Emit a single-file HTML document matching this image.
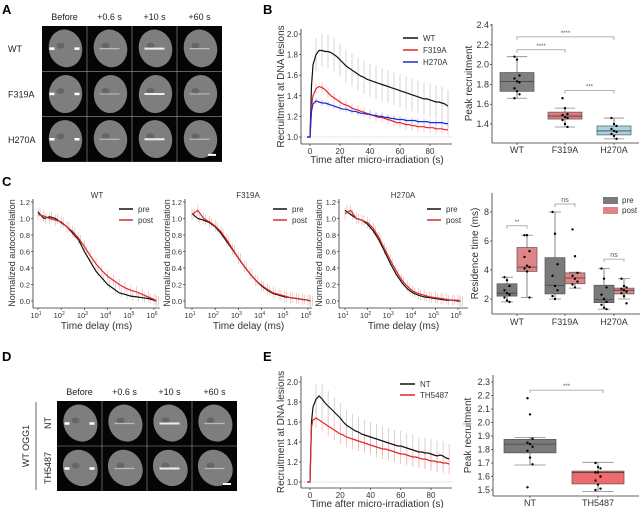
<!DOCTYPE html>
<html><head><meta charset="utf-8"><style>
body{margin:0;background:#fff}
svg{display:block;font-family:"Liberation Sans","DejaVu Sans",sans-serif}
</style></head><body>
<svg id="fig" width="642" height="508" viewBox="0 0 642 508" xmlns="http://www.w3.org/2000/svg">
<rect width="642" height="508" fill="#fff"/>
</svg>
<script>
// ---------- data ----------
const recTimes = [-2,-1,0,1,2,4,6,8,10,12,14,16,18,20,22,24,26,28,30,32,34,36,38,40,42,44,46,48,50,52,54,56,58,60,62,64,66,68,70,72,74,76,78,80,82,84,86,88,90,92];
const recWT = [1.0,1.0,1.0,1.5,1.7, 1.8,1.84,1.84,1.83,1.83,1.82,1.8,1.78,1.75,1.72, 1.69,1.67,1.65,1.63,1.61,1.59,1.58,1.56,1.55,1.54, 1.53,1.52,1.51,1.5,1.49,1.48,1.47,1.46,1.45,1.44, 1.43,1.42,1.41,1.4,1.39,1.38,1.37,1.37,1.36,1.35, 1.34,1.34,1.33,1.32,1.30];
const recF319A = [1.0,1.0,1.0,1.3,1.4, 1.47,1.49,1.48,1.46,1.43,1.40,1.38,1.36,1.34,1.32, 1.31,1.30,1.28,1.27,1.26,1.25,1.24,1.23,1.22,1.21, 1.20,1.19,1.19,1.18,1.17,1.16,1.15,1.14,1.14,1.13, 1.12,1.12,1.11,1.11,1.10,1.10,1.10,1.09,1.09,1.09, 1.08,1.08,1.08,1.07,1.07];
const recH270A = [1.0,1.0,1.0,1.25,1.32, 1.35,1.34,1.33,1.33,1.32,1.31,1.30,1.29,1.28,1.27, 1.27,1.26,1.25,1.25,1.24,1.23,1.23,1.22,1.22,1.21, 1.21,1.20,1.20,1.19,1.19,1.18,1.18,1.17,1.17,1.17, 1.16,1.16,1.16,1.16,1.15,1.15,1.15,1.15,1.14,1.14, 1.14,1.14,1.14,1.13,1.13];
const recNT = [1,1,1,1.6,1.75, 1.83,1.86,1.83,1.79,1.76,1.73,1.70,1.67,1.64,1.60, 1.57,1.55,1.53,1.51,1.50,1.48,1.47,1.46,1.45,1.44, 1.43,1.42,1.41,1.40,1.39,1.38,1.37,1.36,1.36,1.35, 1.34,1.33,1.32,1.31,1.30,1.30,1.29,1.29,1.28,1.27, 1.26,1.27,1.26,1.24,1.23];
const recTH = [1,1,1,1.55,1.62, 1.64,1.62,1.60,1.58,1.56,1.54,1.52,1.50,1.48,1.47, 1.45,1.44,1.43,1.42,1.41,1.40,1.39,1.38,1.37,1.36, 1.35,1.34,1.33,1.33,1.32,1.31,1.30,1.29,1.28,1.28, 1.27,1.26,1.25,1.25,1.24,1.23,1.23,1.22,1.21,1.21, 1.20,1.20,1.19,1.19,1.18];
const recErrB = [0.16,0.05,0.03];
const recErrE = [0.15,0.1];
const recXTicks = [0,20,40,60,80];
const recYTicksB = [1.0,1.2,1.4,1.6,1.8,2.0];

const acLogT = [1,1.25,1.5,1.75,2,2.25,2.5,2.75,3,3.25,3.5,3.75,4,4.25,4.5,4.75,5,5.25,5.5,5.75,6,6.1];
const acWTpre = [1.08,1.0,1.02,1.0,0.95,0.9,0.82,0.74,0.6,0.48,0.36,0.28,0.2,0.15,0.1,0.08,0.06,0.05,0.04,0.03,0.01,0.0];
const acWTpost = [1.05,1.03,1.0,0.98,0.96,0.9,0.84,0.76,0.66,0.55,0.45,0.37,0.3,0.25,0.2,0.16,0.13,0.11,0.08,0.05,0.02,0.0];
const acF319Apre = [1.06,1.0,0.98,0.95,0.9,0.82,0.72,0.62,0.52,0.42,0.33,0.25,0.18,0.13,0.09,0.07,0.05,0.04,0.03,0.02,0.01,0.0];
const acF319Apost = [1.05,1.1,1.0,0.96,0.91,0.84,0.74,0.63,0.52,0.42,0.33,0.25,0.19,0.14,0.1,0.08,0.06,0.04,0.03,0.02,0.01,0.0];
const acH270Apre = [1.1,1.05,1.0,0.98,0.93,0.85,0.74,0.6,0.46,0.33,0.23,0.15,0.1,0.07,0.05,0.04,0.03,0.02,0.01,0.01,0.0,0.0];
const acH270Apost = [1.06,1.1,1.0,0.98,0.95,0.88,0.77,0.63,0.5,0.37,0.26,0.18,0.12,0.09,0.07,0.05,0.04,0.03,0.02,0.01,0.01,0.0];
const acYTicks = [0.0,0.2,0.4,0.6,0.8,1.0,1.2];
const acXTickExp = [1,2,3,4,5,6];

const peakCats = ['WT','F319A','H270A'];
const peakStats = [[1.66,1.73,1.83,1.92,2.08],[1.37,1.45,1.48,1.52,1.56],[1.25,1.29,1.33,1.38,1.46]];
const peakPts = [[2.08,2.05,1.89,1.86,1.83,1.82,1.76,1.73,1.70,1.66],[1.66,1.56,1.50,1.49,1.47,1.46,1.44,1.40,1.37],[1.46,1.40,1.38,1.35,1.33,1.32,1.30,1.28,1.25]];
const peakYTicks = [1.4,1.6,1.8,2.0,2.2,2.4];

const resCats = ['WT','F319A','H270A'];
const resPre = [[1.8,2.2,2.4,3.05,3.5],[2.0,2.35,2.95,4.85,8.0],[1.3,1.75,1.95,2.95,4.1]];
const resPost = [[2.1,3.9,4.2,5.55,6.4],[2.75,3.05,3.45,3.8,3.85],[2.0,2.35,2.6,2.75,3.4]];
const resPrePts = [[3.5,3.3,2.9,2.6,2.4,2.3,2.1,1.9,1.8],[8.0,6.5,4.4,3.6,2.9,2.6,2.2,2.0],[4.1,3.4,2.8,2.3,2.0,1.8,1.6,1.4,1.3]];
const resPostPts = [[6.4,6.4,5.3,4.9,4.3,4.2,4.1,3.9,2.1],[6.8,4.95,3.8,3.6,3.4,3.2,3.0,2.8],[3.4,2.9,2.8,2.7,2.6,2.5,2.4,2.2,1.7]];
const resYTicks = [2,4,6,8];

const peakECats = ['NT','TH5487'];
const peakEStats = [[1.685,1.775,1.84,1.875,1.89],[1.49,1.545,1.63,1.64,1.705]];
const peakEPts = [[2.18,2.06,1.88,1.85,1.84,1.82,1.79,1.74,1.69,1.52],[1.70,1.67,1.66,1.63,1.63,1.60,1.57,1.54,1.51,1.50]];
const peakEYTicks = [1.5,1.6,1.7,1.8,1.9,2.0,2.1,2.2,2.3];

// ---------- helpers ----------
const svg = document.getElementById('fig');
const NS = 'http://www.w3.org/2000/svg';
function el(tag, attrs, name, parent){
  const e = document.createElementNS(NS, tag);
  for (const k in attrs) e.setAttribute(k, attrs[k]);
  
  
  (parent||svg).appendChild(e);
  return e;
}
function txt(x,y,s,size,name,opt){
  opt=opt||{};
  const t = el('text',{x:x,y:y,'font-size':size,fill:opt.fill||'#333','text-anchor':opt.anchor||'middle','font-weight':opt.weight||'normal',transform:opt.rot?`rotate(-90 ${x} ${y})`:''},name);
  t.textContent = s; return t;
}
function line(x1,y1,x2,y2,stroke,w,name,extra){
  const a={x1:x1,y1:y1,x2:x2,y2:y2,stroke:stroke,'stroke-width':w};
  if(extra) Object.assign(a,extra);
  return el('line',a,name);
}
function poly(xs,ys,sx,sy,stroke,w,name){
  let d='';
  for(let i=0;i<xs.length;i++) d+=(i?'L':'M')+sx(xs[i]).toFixed(1)+' '+sy(ys[i]).toFixed(1);
  return el('path',{d:d,fill:'none',stroke:stroke,'stroke-width':w},name);
}

// ---------- panel letters ----------
txt(2,14,'A',13,'panel-label-a',{anchor:'start',weight:'bold',fill:'#000'});
txt(263,14,'B',13,'panel-label-b',{anchor:'start',weight:'bold',fill:'#000'});
txt(2,186,'C',13,'panel-label-c',{anchor:'start',weight:'bold',fill:'#000'});
txt(2,361,'D',13,'panel-label-d',{anchor:'start',weight:'bold',fill:'#000'});
txt(263,361,'E',13,'panel-label-e',{anchor:'start',weight:'bold',fill:'#000'});

// ---------- micrographs ----------
function grid(x0,y0,cw,rh,rows,cols,heads,name,tilt){
  el('rect',{x:x0,y:y0,width:cw*cols,height:rh*rows,fill:'#050505'},name+'-background');
  for(let r=0;r<rows;r++)for(let c=0;c<cols;c++){
    const cx=x0+c*cw+cw/2, cy=y0+r*rh+rh/2;
    el('ellipse',{cx:cx+1,cy:cy,rx:cw*0.37,ry:rh*0.42,fill:'#7e7e7e',transform:`rotate(${tilt[r]} ${cx} ${cy})`},name+'-nucleus');
    el('ellipse',{cx:cx-4,cy:cy-3,rx:4,ry:3,fill:'#666'},name+'-nucleolus');
    if(c===0){
      line(cx-15,cy,cx-10,cy,'#fff',2.5,name+'-arrow-left');
      line(cx+10,cy,cx+15,cy,'#fff',2.5,name+'-arrow-right');
    } else {
      line(cx-10,cy,cx+10,cy,c===2?'#eee':'#bbb',c===2?2:1.2,name+'-damage-stripe');
    }
  }
  for(let c=1;c<cols;c++) line(x0+c*cw,y0,x0+c*cw,y0+rh*rows,'#999',0.6,name+'-divider');
  for(let r=1;r<rows;r++) line(x0,y0+r*rh,x0+cw*cols,y0+r*rh,'#999',0.6,name+'-divider');
  line(x0+cw*cols-14,y0+rh*rows-7,x0+cw*cols-6,y0+rh*rows-7,'#fff',2,name+'-scale-bar');
  heads.forEach((h,i)=>txt(x0+i*cw+cw/2,y0-6,h,9,name+'-column-header',{fill:'#222'}));
}
grid(42,26,45,45.3,3,4,['Before','+0.6 s','+10 s','+60 s'],'panel-a-image',[-15,5,-10]);
['WT','F319A','H270A'].forEach((s,i)=>txt(8,52+i*45.5,s,9,'panel-a-row-label',{anchor:'start',fill:'#222'}));
grid(57,401,45,45,2,4,['Before','+0.6 s','+10 s','+60 s'],'panel-d-image',[-25,-35]);
txt(51,423,'NT',9,'panel-d-row-label',{rot:true,fill:'#222'});
txt(51,468,'TH5487',9,'panel-d-row-label',{rot:true,fill:'#222'});
txt(29,446,'WT OGG1',9,'panel-d-group-label',{rot:true,fill:'#222'});
line(36,402,36,490,'#444',0.8,'panel-d-group-bracket');

// ---------- recruitment line charts ----------
function recChart(cfg){
  const sx=t=>cfg.x0+t*cfg.kx, sy=v=>cfg.y1-(v-1)*cfg.ky;
  const n=cfg.name;
  line(cfg.axL,sy(1),cfg.axR,sy(1),'#aaa',0.6,n+'-baseline',{'stroke-dasharray':'1.5,1.5'});
  cfg.series.forEach((s,k)=>{
    for(let i=5;i<recTimes.length;i+=2){
      line(sx(recTimes[i]),sy(s.v[i]-s.err),sx(recTimes[i]),sy(s.v[i]+s.err),s.ec,0.6,n+'-error-bar');
    }
  });
  cfg.series.forEach(s=>poly(recTimes,s.v,sx,sy,s.c,1.2,n+'-line-'+s.label.toLowerCase()));
  line(cfg.axL,cfg.axTop,cfg.axL,cfg.axB,'#333',0.8,n+'-y-axis');
  line(cfg.axL,cfg.axB,cfg.axR,cfg.axB,'#333',0.8,n+'-x-axis');
  cfg.yt.forEach(v=>{line(cfg.axL-2,sy(v),cfg.axL,sy(v),'#333',0.7,n+'-y-tick');txt(cfg.axL-3,sy(v)+3,v.toFixed(1),8,n+'-y-tick-label',{anchor:'end'});});
  recXTicks.forEach(v=>{line(sx(v),cfg.axB,sx(v),cfg.axB+2,'#333',0.7,n+'-x-tick');txt(sx(v),cfg.axB+10,String(v),8,n+'-x-tick-label');});
  txt(377,cfg.axB+19,'Time after micro-irradiation (s)',10,n+'-x-axis-title');
  txt(284,(cfg.axTop+cfg.axB)/2,'Recruitment at DNA lesions',10,n+'-y-axis-title',{rot:true});
  cfg.series.forEach((s,i)=>{
    line(cfg.lx,cfg.ly+i*cfg.ld,cfg.lx+15,cfg.ly+i*cfg.ld,s.c,1.5,n+'-legend-swatch');
    txt(cfg.lx+20,cfg.ly+i*cfg.ld+3,s.label,8,n+'-legend-entry',{anchor:'start'});
  });
}
recChart({name:'panel-b',x0:310,kx:1.5,y1:137,ky:103,axL:301,axR:452,axTop:29,axB:144,yt:recYTicksB,lx:403,ly:38,ld:12,
  series:[{label:'WT',v:recWT,c:'#111',ec:'#bbb',err:recErrB[0]},{label:'F319A',v:recF319A,c:'#e0282a',ec:'#f3a0a0',err:recErrB[1]},{label:'H270A',v:recH270A,c:'#1a2ad0',ec:'#9aa4ee',err:recErrB[2]}]});
recChart({name:'panel-e',x0:310,kx:1.5125,y1:482,ky:100,axL:301,axR:452,axTop:376,axB:488,yt:recYTicksB,lx:400,ly:384,ld:11,
  series:[{label:'NT',v:recNT,c:'#111',ec:'#bbb',err:recErrE[0]},{label:'TH5487',v:recTH,c:'#e0282a',ec:'#f3a0a0',err:recErrE[1]}]});

// ---------- autocorrelation charts ----------
function acChart(cfg){
  const sx=l=>cfg.x10+(l-1)*cfg.kd, sy=v=>301-v*82.5;
  const n=cfg.name;
  for(let i=0;i<acLogT.length;i++){
    line(sx(acLogT[i]),sy(cfg.post[i]-0.07),sx(acLogT[i]),sy(cfg.post[i]+0.07),'#f4a6a6',0.6,n+'-error-bar');
    line(sx(acLogT[i])+2,sy(cfg.pre[i]-0.06),sx(acLogT[i])+2,sy(cfg.pre[i]+0.06),'#bbb',0.6,n+'-error-bar');
  }
  poly(acLogT,cfg.pre,sx,sy,'#111',1.2,n+'-line-pre');
  poly(acLogT,cfg.post,sx,sy,'#e0282a',1.2,n+'-line-post');
  line(cfg.axL,199,cfg.axL,308,'#333',0.8,n+'-y-axis');
  line(cfg.axL,308,cfg.axR,308,'#333',0.8,n+'-x-axis');
  acYTicks.forEach(v=>{line(cfg.axL-2,sy(v),cfg.axL,sy(v),'#333',0.7,n+'-y-tick');txt(cfg.axL-3,sy(v)+3,v.toFixed(1),7.5,n+'-y-tick-label',{anchor:'end'});});
  acXTickExp.forEach(e=>{
    line(sx(e),308,sx(e),310,'#333',0.7,n+'-x-tick');
    const t=txt(sx(e)-2,318,'10',7.5,n+'-x-tick-label');
    const s=document.createElementNS(NS,'tspan'); s.setAttribute('dy','-3'); s.setAttribute('font-size','5'); s.textContent=String(e); t.appendChild(s);
  });
  txt((cfg.axL+cfg.axR)/2,329,'Time delay (ms)',10,n+'-x-axis-title');
  txt(cfg.ylx,253,'Normalized autocorrelation',9,n+'-y-axis-title',{rot:true});
  txt(cfg.tx,198,cfg.title,8,n+'-title');
  line(cfg.lx,209,cfg.lx+14,209,'#111',1.5,n+'-legend-swatch-pre');
  txt(cfg.lx+19,212,'pre',8,n+'-legend-entry',{anchor:'start'});
  line(cfg.lx,220,cfg.lx+14,220,'#e0282a',1.5,n+'-legend-swatch-post');
  txt(cfg.lx+19,223,'post',8,n+'-legend-entry',{anchor:'start'});
}
acChart({name:'panel-c-wt',title:'WT',pre:acWTpre,post:acWTpost,x10:38,kd:23.2,axL:33,axR:160,ylx:15,tx:97,lx:119});
acChart({name:'panel-c-f319a',title:'F319A',pre:acF319Apre,post:acF319Apost,x10:192,kd:23.2,axL:185,axR:312,ylx:170,tx:248,lx:273});
acChart({name:'panel-c-h270a',title:'H270A',pre:acH270Apre,post:acH270Apost,x10:345,kd:22.6,axL:339,axR:468,ylx:322,tx:403,lx:427});

// ---------- box plots ----------
function box(cx,w,st,sy,fill,n){
  line(cx,sy(st[0]),cx,sy(st[4]),'#666',0.8,n+'-whisker');
  line(cx-w*0.3,sy(st[0]),cx+w*0.3,sy(st[0]),'#888',0.8,n+'-whisker-cap');
  line(cx-w*0.3,sy(st[4]),cx+w*0.3,sy(st[4]),'#888',0.8,n+'-whisker-cap');
  el('rect',{x:cx-w/2,y:sy(st[3]),width:w,height:sy(st[1])-sy(st[3]),fill:fill,stroke:'#555','stroke-width':0.7},n+'-box');
  line(cx-w/2,sy(st[2]),cx+w/2,sy(st[2]),'#444',0.8,n+'-median');
}
function pts(cx,vals,sy,n){
  vals.forEach((v,i)=>el('circle',{cx:cx+((i%3)-1)*2.5,cy:sy(v),r:1.2,fill:'#000'},n+'-point'));
}
function bracket(x1,x2,y,label,n){
  el('path',{d:`M${x1} ${y+3}V${y}H${x2}V${y+3}`,fill:'none',stroke:'#999','stroke-width':0.8},n+'-significance-bracket');
  txt((x1+x2)/2,y-2,label,label==='ns'?7:6,n+'-significance-label',{fill:'#555'});
}
function boxAxes(n,axL,axR,axTop,axB,ticks,sy,dec,ylab,ylx){
  line(axL,axTop,axL,axB,'#333',0.8,n+'-y-axis');
  line(axL,axB,axR,axB,'#333',0.8,n+'-x-axis');
  ticks.forEach(v=>{line(axL-2,sy(v),axL,sy(v),'#333',0.7,n+'-y-tick');txt(axL-3,sy(v)+3,v.toFixed(dec),9,n+'-y-tick-label',{anchor:'end'});});
  txt(ylx,(axTop+axB)/2,ylab,10,n+'-y-axis-title',{rot:true});
}
(function(){
  const n='panel-b-box'; const sy=v=>124-(v-1.4)*99; const xs=[517,565,614]; const fills=['#808080','#e07a7c','#a8d4e0'];
  boxAxes(n,492,639,24,143,peakYTicks,sy,1,'Peak recruitment',472);
  peakCats.forEach((c,i)=>{box(xs[i],34,peakStats[i],sy,fills[i],n+'-'+c.toLowerCase());pts(xs[i],peakPts[i],sy,n);
    line(xs[i],143,xs[i],145,'#333',0.7,n+'-x-tick');txt(xs[i],153,c,9,n+'-x-tick-label');});
  bracket(517,565,sy(2.15),'****',n); bracket(517,614,sy(2.28),'****',n); bracket(565,614,sy(1.74),'***',n);
})();
(function(){
  const n='panel-c-box'; const sy=v=>299-(v-2)*14.5; const xs=[517,565,614];
  boxAxes(n,492,640,193,314,resYTicks,sy,0,'Residence time (ms)',478);
  resCats.forEach((c,i)=>{
    box(xs[i]-10,20,resPre[i],sy,'#7a7a7a',n+'-pre-'+c.toLowerCase());
    box(xs[i]+10,20,resPost[i],sy,'#e08587',n+'-post-'+c.toLowerCase());
    pts(xs[i]-10,resPrePts[i],sy,n); pts(xs[i]+10,resPostPts[i],sy,n);
    line(xs[i],314,xs[i],316,'#333',0.7,n+'-x-tick');txt(xs[i],325,c,9,n+'-x-tick-label');
  });
  bracket(507,527,sy(7.05),'**',n); bracket(555,575,sy(8.55),'ns',n); bracket(604,624,sy(4.75),'ns',n);
  el('rect',{x:603,y:197,width:15,height:7,fill:'#7a7a7a'},n+'-legend-swatch-pre');
  txt(622,203,'pre',8,n+'-legend-entry',{anchor:'start'});
  el('rect',{x:603,y:207,width:15,height:7,fill:'#e08587'},n+'-legend-swatch-post');
  txt(622,213,'post',8,n+'-legend-entry',{anchor:'start'});
})();
(function(){
  const n='panel-e-box'; const sy=v=>490-(v-1.5)*135; const xs=[530,598]; const fills=['#7a7a7a','#ee6a6c'];
  boxAxes(n,493,639,375,496,peakEYTicks,sy,1,'Peak recruitment',471);
  peakECats.forEach((c,i)=>{box(xs[i],52,peakEStats[i],sy,fills[i],n+'-'+c.toLowerCase());pts(xs[i],peakEPts[i],sy,n);
    line(xs[i],496,xs[i],498,'#333',0.7,n+'-x-tick');txt(xs[i],506,c,9,n+'-x-tick-label');});
  bracket(530,603,sy(2.24),'***',n);
})();
</script>
</body></html>
